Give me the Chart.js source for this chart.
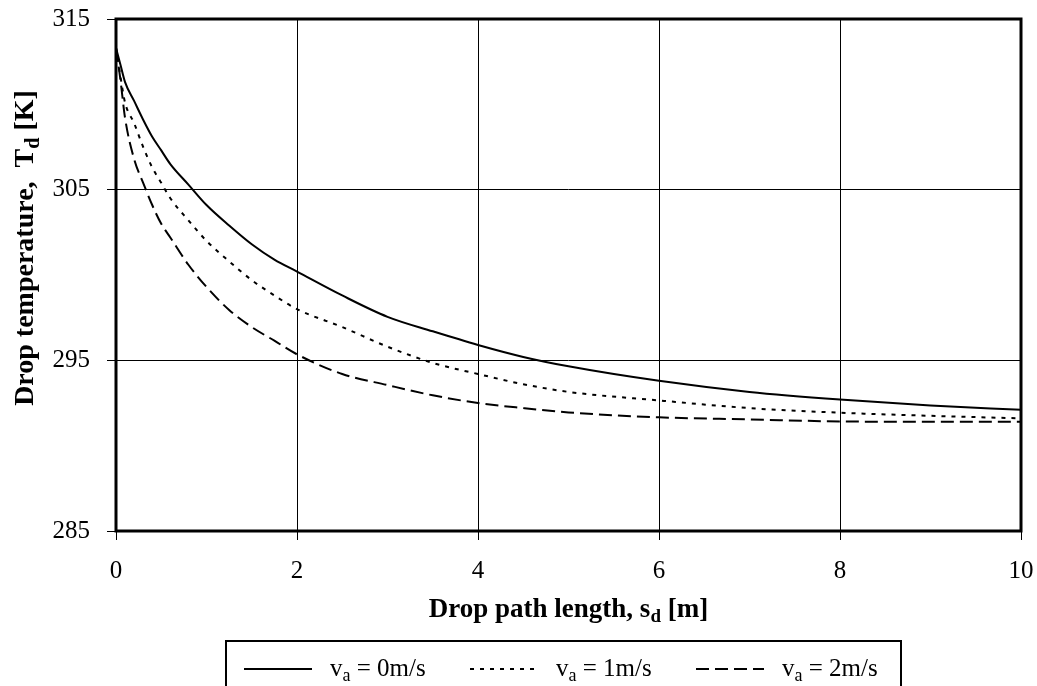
<!DOCTYPE html>
<html>
<head>
<meta charset="utf-8">
<script src="https://cdn.jsdelivr.net/npm/chart.js@4.4.1/dist/chart.umd.min.js"></script>
<style>
  html, body { margin: 0; padding: 0; background: #fff; }
  canvas { display: block; }
</style>
</head>
<body>
<canvas id="dropChart" width="1037" height="686"></canvas>
<script>
// drop path length s_d [m]
const sPath = [0, 0.05, 0.1, 0.2, 0.3, 0.4, 0.5, 0.6, 0.8, 1.0, 1.25, 1.5, 1.75, 2, 2.5, 3, 3.5, 4, 4.5, 5, 6, 7, 8, 9, 10];
// drop temperature T_d [K] for each air velocity
const tV0 = [313.3, 312.3, 311.3, 310.2, 309.1, 308.1, 307.3, 306.5, 305.3, 304.1, 302.9, 301.8, 300.9, 300.2, 298.8, 297.55, 296.7, 295.9, 295.2, 294.65, 293.8, 293.15, 292.7, 292.35, 292.1];
const tV1 = [313.3, 311.6, 310.1, 308.9, 307.5, 306.3, 305.4, 304.5, 303.2, 302.0, 300.8, 299.7, 298.8, 298.0, 296.95, 295.8, 294.85, 294.2, 293.6, 293.15, 292.65, 292.2, 291.93, 291.75, 291.6];
const tV2 = [313.3, 311.4, 309.2, 306.8, 305.4, 304.1, 303.0, 302.2, 300.6, 299.3, 297.95, 296.95, 296.15, 295.35, 294.2, 293.55, 292.95, 292.5, 292.2, 291.95, 291.66, 291.54, 291.42, 291.4, 291.4];

const velocities = ['0m/s', '1m/s', '2m/s'];
const dashes = [[], [4, 6], [13, 6]];

const xTicks = [0, 2, 4, 6, 8, 10];
const yTicks = [285, 295, 305, 315];

const SERIF = '"Liberation Serif", "Times New Roman", serif';

function pts(ys) {
  return sPath.map((s, i) => ({ x: s, y: ys[i] }));
}

// draws text runs where some pieces are subscripts
function richText(ctx, parts, size, bold, x, y, align) {
  const w = bold ? 'bold ' : '';
  const subSize = Math.round(size * 0.7);
  let total = 0;
  parts.forEach(([t, sub]) => {
    ctx.font = `${w}${sub ? subSize : size}px ${SERIF}`;
    total += ctx.measureText(t).width;
  });
  let cx = align === 'center' ? x - total / 2 : x;
  ctx.textAlign = 'left';
  ctx.textBaseline = 'alphabetic';
  parts.forEach(([t, sub]) => {
    ctx.font = `${w}${sub ? subSize : size}px ${SERIF}`;
    ctx.fillText(t, cx, sub ? y + Math.round(size * 0.2) : y);
    cx += ctx.measureText(t).width;
  });
}

const decor = {
  id: 'decor',
  afterDatasetsDraw(chart) {
    const { ctx, chartArea: a } = chart;
    ctx.save();
    ctx.strokeStyle = '#000';
    ctx.lineWidth = 3;
    ctx.strokeRect(a.left, a.top, a.right - a.left, a.bottom - a.top);
    ctx.restore();
  },
  afterDraw(chart) {
    const { ctx, chartArea: a } = chart;
    ctx.save();
    ctx.fillStyle = '#000';

    // x axis title
    richText(ctx, [['Drop path length, s', false], ['d', true], [' [m]', false]],
      27, true, (a.left + a.right) / 2, 617, 'center');

    // y axis title
    ctx.save();
    ctx.translate(33, 248);
    ctx.rotate(-Math.PI / 2);
    richText(ctx, [['Drop temperature,  T', false], ['d', true], [' [K]', false]],
      28, true, 0, 0, 'center');
    ctx.restore();

    // legend box
    ctx.strokeStyle = '#000';
    ctx.lineWidth = 2;
    ctx.strokeRect(226, 641, 675, 70);
    const starts = [244, 470, 696];
    velocities.forEach((v, i) => {
      const x0 = starts[i];
      ctx.save();
      ctx.lineWidth = 2;
      ctx.setLineDash(dashes[i]);
      ctx.beginPath();
      ctx.moveTo(x0, 669);
      ctx.lineTo(x0 + 68, 669);
      ctx.stroke();
      ctx.restore();
      richText(ctx, [['v', false], ['a', true], [' = ' + v, false]], 25, false, x0 + 86, 676, 'left');
    });
    ctx.restore();
  }
};

const mkSet = (ys, i) => ({
  data: pts(ys),
  borderColor: '#000',
  borderWidth: 2,
  borderDash: dashes[i],
  pointRadius: 0,
  fill: false,
  cubicInterpolationMode: 'monotone',
});

new Chart(document.getElementById('dropChart'), {
  type: 'line',
  data: {
    datasets: [mkSet(tV0, 0), mkSet(tV1, 1), mkSet(tV2, 2)],
  },
  options: {
    responsive: false,
    animation: false,
    layout: { padding: { left: 0, right: 16, top: 19, bottom: 75 } },
    plugins: { legend: { display: false }, tooltip: { enabled: false } },
    scales: {
      x: {
        type: 'linear',
        min: 0,
        max: 10,
        afterFit: (s) => { s.height = 80; s.paddingLeft = 0; s.paddingRight = 0; },
        afterBuildTicks: (s) => { s.ticks = xTicks.map((v) => ({ value: v })); },
        grid: { color: '#000', lineWidth: 1, tickLength: 9, tickColor: '#000' },
        border: { display: false },
        ticks: { color: '#000', padding: 16, maxRotation: 0, font: { family: SERIF, size: 25 } },
      },
      y: {
        min: 285,
        max: 315,
        afterFit: (s) => { s.width = 116; s.paddingTop = 0; s.paddingBottom = 0; },
        afterBuildTicks: (s) => { s.ticks = yTicks.map((v) => ({ value: v })); },
        grid: { color: '#000', lineWidth: 1, tickLength: 9, tickColor: '#000' },
        border: { display: false },
        ticks: { color: '#000', padding: 17, font: { family: SERIF, size: 25 } },
      },
    },
  },
  plugins: [decor],
});
</script>
</body>
</html>
